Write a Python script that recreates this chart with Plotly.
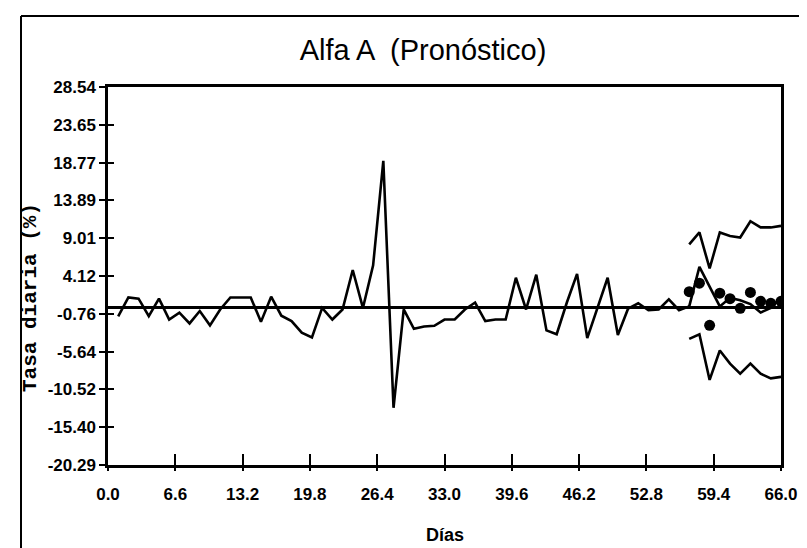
import plotly.graph_objects as go

# ---- data ----
days = list(range(1, 58))
tasa = [-1.1, 1.35, 1.2, -1.05, 1.2, -1.5, -0.6, -2.0, -0.4, -2.25,
        -0.2, 1.35, 1.35, 1.35, -1.8, 1.45, -1.0, -1.7, -3.2, -3.8,
        0.0, -1.5, -0.2, 4.9, 0.0, 5.5, 19.0, -12.9, -0.2, -2.7,
        -2.4, -2.3, -1.5, -1.5, -0.2, 0.7, -1.7, -1.5, -1.5, 3.9,
        -0.2, 4.3, -2.9, -3.4, 0.7, 4.4, -3.9, 0.0, 3.9, -3.5,
        -0.1, 0.6, -0.3, -0.2, 1.1, -0.3, 0.2]

fc_days = [57, 58, 60, 61, 62, 63, 64, 65, 66]
pronostico = [0.2, 5.3, 0.2, 1.3, 1.0, 0.5, -0.6, 0.0, 1.3]

band_days = [57, 58, 59, 60, 61, 62, 63, 64, 65, 66]
limite_sup = [8.2, 9.75, 5.1, 9.75, 9.3, 9.1, 11.2, 10.4, 10.4, 10.6]
limite_inf = [-4.0, -3.4, -9.3, -5.5, -7.2, -8.5, -7.2, -8.5, -9.1, -8.9]

obs_days = [57, 58, 59, 60, 61, 62, 63, 64, 65, 66]
observado = [2.1, 3.2, -2.25, 1.9, 1.2, -0.05, 2.0, 0.85, 0.6, 0.85]

ytick_vals = [-20.29, -15.40, -10.52, -5.64, -0.76, 4.12, 9.01, 13.89, 18.77, 23.65, 28.54]
ytick_text = ["-20.29", "-15.40", "-10.52", "-5.64", "-0.76", "4.12", "9.01",
              "13.89", "18.77", "23.65", "28.54"]
xtick_vals = [0, 6.6, 13.2, 19.8, 26.4, 33.0, 39.6, 46.2, 52.8, 59.4, 66.0]
xtick_text = ["0.0", "6.6", "13.2", "19.8", "26.4", "33.0", "39.6", "46.2",
              "52.8", "59.4", "66.0"]

SANS = "Liberation Sans, Arial, sans-serif"
MONO = "Liberation Mono, DejaVu Sans Mono, monospace"
LW = 2.6

fig = go.Figure()
fig.add_trace(go.Scatter(x=days, y=tasa, mode="lines",
                         line=dict(color="black", width=LW), showlegend=False))
fig.add_trace(go.Scatter(x=fc_days, y=pronostico, mode="lines",
                         line=dict(color="black", width=LW), showlegend=False))
fig.add_trace(go.Scatter(x=band_days, y=limite_sup, mode="lines",
                         line=dict(color="black", width=LW), showlegend=False))
fig.add_trace(go.Scatter(x=band_days, y=limite_inf, mode="lines",
                         line=dict(color="black", width=LW), showlegend=False))
fig.add_trace(go.Scatter(x=obs_days, y=observado, mode="markers",
                         marker=dict(color="black", size=11, symbol="circle"),
                         showlegend=False))

L, R, T, B = 100, 34, 79, 91
W, H = 807, 548
pw, ph = W - L - R, H - T - B


def px_x(p):
    return (p - L) / pw


def px_y(p):
    return (H - B - p) / ph


fig.update_layout(
    width=W, height=H,
    margin=dict(l=L, r=R, t=T, b=B, pad=0),
    paper_bgcolor="white", plot_bgcolor="white",
    title=dict(text="Alfa A  (Pronóstico)", x=415 / W, xanchor="center",
               y=1 - 42 / H, yanchor="middle",
               font=dict(family=SANS, size=29, color="black")),
    xaxis=dict(range=[0, 66], tickvals=xtick_vals, ticktext=xtick_text,
               ticks="inside", ticklen=11, tickwidth=2, tickcolor="black",
               ticklabelstandoff=12,
               showline=True, linecolor="black", linewidth=2.5, mirror=True,
               showgrid=False, zeroline=False,
               tickfont=dict(family=SANS, size=17, color="black", weight="bold")),
    yaxis=dict(range=[-20.29, 28.54], tickvals=ytick_vals, ticktext=ytick_text,
               ticks="outside", ticklen=6, tickwidth=2, tickcolor="black",
               showline=True, linecolor="black", linewidth=2.5, mirror=True,
               showgrid=False, zeroline=True, zerolinecolor="black", zerolinewidth=2.8,
               tickfont=dict(family=SANS, size=17, color="black", weight="bold")),
    xaxis2=dict(range=[0, 66], tickvals=xtick_vals, overlaying="x", anchor="y",
                ticks="outside", ticklen=5, tickwidth=2, tickcolor="black",
                showticklabels=False, showline=False, showgrid=False, zeroline=False),
    yaxis2=dict(range=[-20.29, 28.54], tickvals=ytick_vals, overlaying="y", anchor="x",
                side="left", ticks="inside", ticklen=6, tickwidth=2, tickcolor="black",
                showticklabels=False, showline=False, showgrid=False, zeroline=False),
    annotations=[
        dict(text="Tasa diaria (%)", xref="paper", yref="paper",
             x=px_x(22), y=px_y(290), xanchor="center", yanchor="middle",
             textangle=-90, showarrow=False,
             font=dict(family=MONO, size=21, color="black", weight="bold")),
        dict(text="Días", xref="paper", yref="paper",
             x=px_x(437), y=px_y(527), xanchor="center", yanchor="middle",
             showarrow=False,
             font=dict(family=SANS, size=18, color="black", weight="bold")),
    ],
    shapes=[
        dict(type="line", xref="paper", yref="paper",
             x0=px_x(13), x1=px_x(807), y0=px_y(8), y1=px_y(8),
             line=dict(color="black", width=2)),
        dict(type="line", xref="paper", yref="paper",
             x0=px_x(13), x1=px_x(13), y0=px_y(8), y1=px_y(548),
             line=dict(color="black", width=2)),
    ],
)
# helper trace so the overlay tick axes are drawn
fig.add_trace(go.Scatter(x=[None], y=[None], xaxis="x2", yaxis="y2",
                         showlegend=False, hoverinfo="skip"))

fig.write_html("out.html")
